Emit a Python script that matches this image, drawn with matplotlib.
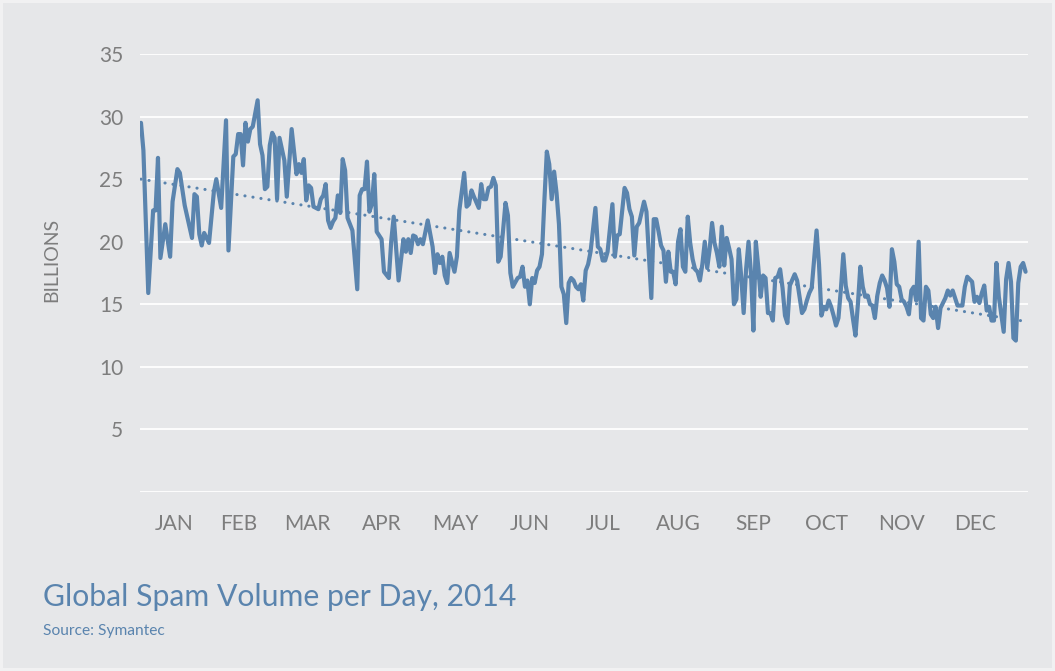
import numpy as np
import matplotlib.pyplot as plt

# daily spam volume (billions), day-of-year index from 0
day = [0, 1, 3, 5, 6, 7, 8, 10, 12, 13, 15, 16, 18, 21, 22, 23, 24, 25, 26, 28,
       30, 31, 33, 35, 36, 38, 39, 40, 41, 42, 43, 44, 45, 46, 48, 49, 50, 51, 52, 53,
       54, 55, 56, 57, 59, 60, 62, 64, 65, 66, 67, 68, 69, 70, 71, 73, 74, 75, 76, 77,
       78, 79, 80, 81, 82, 83, 84, 85, 87, 89, 90, 91, 92, 93, 94, 95, 96, 97, 99, 100,
       102, 103, 104, 106, 108, 109, 110, 111, 112, 113, 114, 115, 116, 118, 120, 121, 122, 123, 124, 125,
       126, 127, 129, 130, 131, 133, 134, 135, 136, 137, 139, 140, 141, 142, 143, 144, 145, 146, 147, 148,
       149, 150, 151, 152, 153, 155, 156, 157, 158, 159, 160, 161, 162, 163, 164, 165, 166, 167, 168, 169,
       170, 171, 172, 173, 174, 175, 176, 177, 178, 179, 180, 181, 182, 183, 184, 185, 187, 188, 189, 190,
       191, 192, 194, 195, 196, 197, 199, 200, 201, 202, 203, 204, 205, 207, 208, 210, 211, 212, 213, 214,
       215, 216, 217, 218, 219, 220, 221, 222, 223, 224, 225, 226, 227, 228, 229, 230, 231, 232, 233, 234,
       235, 236, 237, 238, 239, 240, 241, 242, 243, 244, 245, 246, 247, 248, 249, 250, 251, 252, 253, 254,
       255, 256, 257, 258, 259, 260, 261, 262, 263, 264, 265, 266, 267, 269, 270, 272, 273, 274, 275, 276,
       278, 279, 280, 281, 282, 283, 284, 285, 286, 287, 288, 289, 290, 291, 292, 293, 294, 295, 296, 297,
       298, 299, 300, 301, 302, 303, 304, 305, 306, 307, 308, 309, 310, 311, 312, 313, 314, 315, 316, 317,
       318, 319, 320, 321, 322, 323, 324, 325, 326, 327, 328, 329, 331, 332, 333, 334, 336, 337, 338, 339,
       340, 342, 343, 344, 345, 346, 347, 348, 349, 350, 351, 352, 353, 355, 356, 357, 358, 359, 360, 361,
       362, 363, 364]
volume = [29.5, 27.3, 15.9, 22.5, 22.5, 26.7, 18.7, 21.4, 18.8, 23.2, 25.8, 25.5, 22.9, 20.3, 23.8, 23.6, 20.6, 19.7, 20.7, 19.9,
          24.0, 25.0, 22.7, 29.7, 19.3, 26.8, 27.0, 28.6, 28.6, 26.1, 29.5, 28.0, 29.0, 29.2, 31.3, 27.8, 26.9, 24.2, 24.4, 27.7,
          28.7, 28.3, 23.4, 28.3, 26.5, 23.6, 29.0, 25.4, 26.2, 25.5, 26.6, 23.3, 24.5, 24.3, 22.8, 22.6, 23.4, 23.7, 24.6, 21.7,
          21.1, 21.6, 21.9, 23.7, 22.3, 26.6, 25.7, 21.9, 20.9, 16.2, 23.7, 24.2, 24.2, 26.4, 22.4, 23.0, 25.4, 20.8, 20.2, 17.6,
          17.1, 20.1, 22.0, 16.9, 20.2, 19.2, 20.2, 19.1, 20.5, 20.4, 19.8, 20.2, 19.8, 21.7, 19.6, 17.5, 19.0, 18.3, 18.8, 17.3,
          16.7, 19.1, 17.6, 18.8, 22.5, 25.5, 22.8, 23.0, 24.1, 23.6, 22.7, 24.6, 23.4, 23.4, 24.3, 24.4, 25.1, 24.5, 18.4, 18.8,
          20.9, 23.1, 22.1, 17.5, 16.4, 17.1, 17.2, 18.0, 16.4, 16.9, 15.0, 17.1, 16.7, 17.7, 18.0, 19.0, 23.3, 27.2, 26.2, 23.4,
          25.6, 23.9, 21.4, 16.4, 15.8, 13.5, 16.7, 17.1, 16.9, 16.4, 16.2, 16.6, 15.3, 17.7, 18.2, 19.2, 22.7, 19.6, 19.4, 18.5,
          18.5, 19.2, 23.0, 18.8, 20.5, 20.6, 24.3, 23.9, 22.6, 22.0, 18.9, 21.2, 21.5, 23.2, 22.4, 15.5, 21.8, 21.8, 20.8, 19.7,
          19.3, 16.8, 19.2, 17.6, 17.6, 16.6, 20.0, 21.0, 18.0, 17.6, 22.0, 19.9, 18.6, 17.8, 17.6, 16.9, 18.2, 20.0, 17.9, 19.4,
          21.5, 19.9, 19.1, 18.0, 21.2, 18.1, 20.3, 19.5, 18.6, 15.0, 15.4, 19.4, 17.2, 14.3, 17.8, 20.0, 17.5, 12.9, 20.0, 18.0,
          15.6, 17.3, 17.1, 14.3, 14.3, 13.7, 17.1, 17.2, 17.8, 16.3, 14.1, 13.5, 16.5, 17.4, 16.9, 14.3, 14.6, 15.3, 15.9, 16.3,
          20.9, 18.2, 14.1, 14.8, 14.6, 15.3, 14.8, 14.1, 13.3, 13.9, 16.2, 19.0, 16.5, 15.5, 15.2, 13.8, 12.5, 15.0, 18.0, 16.4,
          15.6, 15.7, 15.0, 14.9, 13.9, 15.7, 16.7, 17.3, 16.9, 16.3, 14.8, 19.4, 18.4, 16.6, 16.4, 15.4, 15.2, 14.8, 14.2, 16.1,
          16.4, 15.3, 20.0, 13.9, 13.7, 16.4, 16.1, 14.2, 13.9, 14.8, 13.1, 14.7, 15.5, 16.1, 15.7, 16.1, 14.9, 14.9, 14.9, 16.4,
          17.2, 16.8, 15.2, 15.6, 15.1, 15.9, 16.5, 14.5, 14.8, 13.7, 13.7, 18.3, 15.6, 12.8, 17.0, 18.3, 16.8, 12.3, 12.1, 16.7,
          18.0, 18.3, 17.6]

# linear trend: value at the start and at the end of the year
trend_days = [0, 365]
trend_vals = [25.0, 13.6]

months = ["JAN", "FEB", "MAR", "APR", "MAY", "JUN", "JUL", "AUG", "SEP", "OCT", "NOV", "DEC"]
month_pos = [13.6, 40.3, 68.3, 99.2, 129.2, 160.1, 190.1, 221.0, 251.9, 281.9, 312.8, 343.2]
yticks = [5, 10, 15, 20, 25, 30, 35]

bg = "#e6e7e9"
blue = "#5a84ae"
grey = "#7d7d7d"

plt.rcParams['font.family'] = ['Lato', 'DejaVu Sans']

fig = plt.figure(figsize=(10.55, 6.71), dpi=100, facecolor=bg,
                 edgecolor="#f1f1f2", linewidth=3)
ax = fig.add_axes([140 / 1055, 1 - 492 / 671, 888 / 1055, 438 / 671])
ax.set_facecolor(bg)

ax.set_xlim(-0.4, 365)
ax.set_ylim(0, 35)

for y in [0] + yticks:
    ax.axhline(y, color="white", lw=1.3, zorder=1)

ax.plot(day, volume, color=blue, lw=3.0, solid_joinstyle="round",
        solid_capstyle="round", zorder=3)

# dotted trend line
ax.plot(trend_days, trend_vals, color=blue, lw=2.2, linestyle=(0, (0.05, 2.6)),
        dash_capstyle="round", zorder=2)

for s in ax.spines.values():
    s.set_visible(False)

ax.set_yticks(yticks)
ax.set_yticklabels([str(v) for v in yticks])
ax.set_xticks(month_pos)
ax.set_xticklabels(months)
ax.tick_params(axis="both", length=0, labelsize=15, colors=grey)
ax.tick_params(axis="y", pad=12)
ax.tick_params(axis="x", pad=16)

fig.text(52 / 1055, 1 - 260 / 671, "BILLIONS", rotation=90, ha="center",
         va="center", fontsize=14, color=grey)
fig.text(43 / 1055, 1 - 606 / 671, "Global Spam Volume per Day, 2014",
         fontsize=21.7, color=blue, ha="left", va="baseline")
fig.text(43 / 1055, 1 - 635 / 671, "Source: Symantec",
         fontsize=11.2, color=blue, ha="left", va="baseline")

fig.savefig("out.png", dpi=100, facecolor=bg, edgecolor=fig.get_edgecolor())
